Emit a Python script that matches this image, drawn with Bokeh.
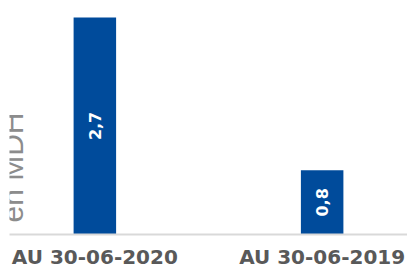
import math
from bokeh.plotting import figure
from bokeh.models import ColumnDataSource, FactorRange, Range1d, LabelSet, Label
from bokeh.core.properties import value
from bokeh.embed import file_html
from bokeh.resources import INLINE

categories = ["AU 30-06-2020", "AU 30-06-2019"]
values = [2.7, 0.8]
value_labels = ["2,7", "0,8"]
axis_title = "en MDH"

BAR_COLOR = "#004B9B"

src = ColumnDataSource(dict(
    cat=categories,
    val=values,
    mid=[v / 2 for v in values],
    lbl=value_labels,
))

p = figure(
    width=407, height=271,
    x_range=FactorRange(factors=categories, range_padding=-0.1245),
    y_range=Range1d(0, 2.91),
    output_backend="svg", toolbar_location=None,
    y_axis_location=None,
    min_border_left=9, min_border_right=0, min_border_top=0, min_border_bottom=36,
)
p.outline_line_color = None
p.background_fill_color = "white"
p.border_fill_color = "white"
p.xgrid.grid_line_color = None
p.ygrid.grid_line_color = None

p.vbar(x="cat", top="val", bottom=0, width=0.187, source=src,
       fill_color=BAR_COLOR, line_color=None)

labels = LabelSet(x="cat", y="mid", text="lbl", source=src, angle=math.pi / 2,
                  text_align="center", text_baseline="middle",
                  text_color="white", text_font=value("DejaVu Sans"),
                  text_font_style="bold", text_font_size="16px")
p.add_layout(labels)

xa = p.xaxis[0]
xa.axis_line_color = "#d9d9d9"
xa.axis_line_width = 2
xa.major_tick_line_color = None
xa.minor_tick_line_color = None
xa.major_tick_out = 0
xa.major_tick_in = 0
xa.major_label_standoff = 10
xa.major_label_text_font = "DejaVu Sans"
xa.major_label_text_font_style = "bold"
xa.major_label_text_font_size = "20px"
xa.major_label_text_color = "#595959"

title = Label(x=3, y=12, x_units="screen", y_units="screen", text=axis_title,
              angle=math.pi / 2, text_align="left", text_baseline="alphabetic",
              text_font="Liberation Sans", text_font_size="30px",
              text_color="#8c8c8c")
p.add_layout(title)

open("out.html", "w").write(file_html(p, INLINE))
